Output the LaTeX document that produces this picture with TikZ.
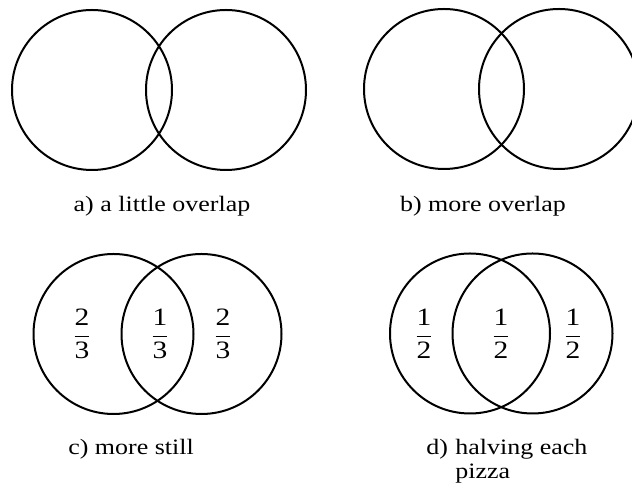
\documentclass[tikz,border=0pt]{standalone}
\usepackage{amsmath}
\usepackage{fontspec}
\setmainfont{Liberation Serif}[FakeStretch=1.18]
\usetikzlibrary{positioning}

\begin{document}
\begin{tikzpicture}[x=0.5pt,y=-0.5pt,
  pz/.style={circle,draw,line width=1pt,minimum size=80pt,inner sep=0pt},
  fr/.style={font=\fontsize{12.5}{14}\selectfont,inner sep=0pt},
  lbl/.style={font=\fontsize{11}{12}\selectfont,inner sep=0pt,anchor=base}]
  \useasboundingbox (0,0) rectangle (632,490);
  % a) a little overlap
  \node[pz] (aL) at (92,90) {};
  \node[pz] (aR) at (226,90) {};
  \node[lbl] (alab) at (162,212) {a) a little overlap};
  % b) more overlap
  \node[pz] (bL) at (444,89) {};
  \node[pz] (bR) at (559,89) {};
  \node[lbl] (blab) at (483,212) {b) more overlap};
  % c) more still
  \node[pz] (cL) at (113.5,334) {};
  \node[pz] (cR) at (201.5,334) {};
  \node[fr] (c1) at (82,334) {$\dfrac{\text{2}}{\text{3}}$};
  \node[fr] (c2) at (160,334) {$\dfrac{\text{1}}{\text{3}}$};
  \node[fr] (c3) at (223,334) {$\dfrac{\text{2}}{\text{3}}$};
  \node[lbl] (clab) at (131,455) {c) more still};
  % d) halving each pizza
  \node[pz] (dL) at (470,333.5) {};
  \node[pz] (dR) at (532.5,333.5) {};
  \node[fr] (d1) at (424,334) {$\dfrac{\text{1}}{\text{2}}$};
  \node[fr] (d2) at (501,334) {$\dfrac{\text{1}}{\text{2}}$};
  \node[fr] (d3) at (573,334) {$\dfrac{\text{1}}{\text{2}}$};
  \node[lbl,anchor=base west] (dlab) at (426,455) {d)\kern0.3em};
  \node[lbl,anchor=base west] (dhalf) at (dlab.base east) {halving each};
  \node[lbl,anchor=base west] (dpizza) at ([yshift=-12pt]dhalf.base west) {pizza};
\end{tikzpicture}
\end{document}
